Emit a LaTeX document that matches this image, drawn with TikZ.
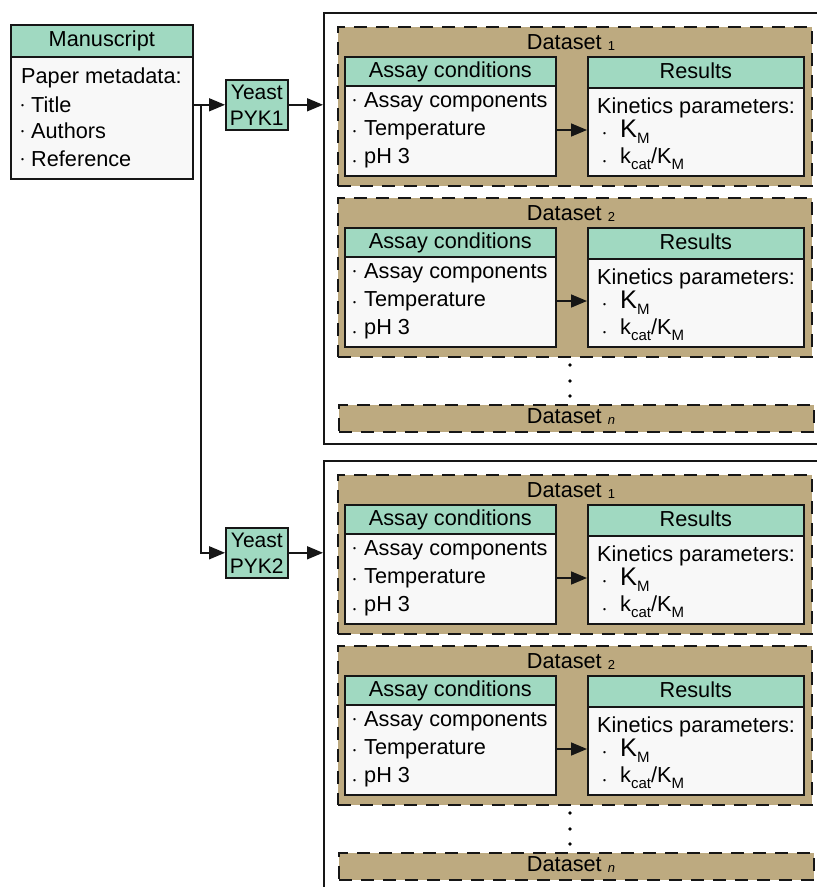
\documentclass[tikz,border=0pt]{standalone}
\usepackage{fontspec}
\setmainfont{Liberation Sans}
\usetikzlibrary{arrows.meta}
\definecolor{hdrgreen}{HTML}{A0D9C1}
\definecolor{tanfill}{HTML}{BDAA80}
\definecolor{bodygray}{HTML}{F8F8F8}
\definecolor{lineblack}{HTML}{161616}
\newcommand\subsc[2][-0.06em]{\raisebox{#1}{\fontsize{13bp}{13bp}\selectfont #2}}
\newcommand\lsub[1]{\raisebox{-0.28em}{\fontsize{15bp}{15bp}\selectfont #1}}
% bullet: optional box width, raise amount
\newcommand\bdot[2][12bp]{\makebox[#1][l]{\raisebox{#2}{\fontsize{8.5bp}{8.5bp}\selectfont\textbullet}}}
\newcommand\DSet[3]{%
  \node[dsetbox, minimum width=474bp, minimum height=159bp] (#1) at (337,{#2}) {};
  \node[lbl, anchor=base] (#1-t) at (571,{#2+23}) {Dataset\ \subsc{#3}};
  \node[hdr, minimum width=211bp, minimum height=29bp] (#1-ah) at (344,{#2+30}) {Assay conditions};
  \node[bodybox, minimum width=211bp, minimum height=90bp] (#1-ab) at (344,{#2+59}) {};
  \node[lbl] (#1-a1) at (353,{#2+81}) {\bdot[11bp]{3.2bp}Assay components};
  \node[lbl] (#1-a2) at (353,{#2+109}) {\bdot[11bp]{0.3bp}Temperature};
  \node[lbl] (#1-a3) at (353,{#2+137}) {\bdot[11bp]{-1.8bp}pH 3};
  \node[hdr, minimum width=216bp, minimum height=31bp] (#1-rh) at (587,{#2+30}) {Results};
  \node[bodybox, minimum width=216bp, minimum height=88bp] (#1-rb) at (587,{#2+61}) {};
  \node[lbl] (#1-r1) at (597,{#2+87}) {Kinetics parameters:};
  \node[lbl] (#1-r2) at (603,{#2+111}) {\bdot[17bp]{0.5bp}{\fontsize{25.5bp}{25bp}\selectfont K}\lsub{M}};
  \node[lbl] (#1-r3) at (603,{#2+137}) {\bdot[17bp]{-1.5bp}k\lsub{cat}/K\lsub{M}};
  \coordinate (#1-ay) at (344,{#2+104});
  \draw[arr] (#1-ay -| #1-ab.east) -- (#1-ay -| #1-rb.west);
}
\newcommand\Container[3]{% #1 prefix, #2 top, #3 height
  \node[contbox, minimum width=507bp, minimum height=#3bp] (#1) at (323,{#2}) {};
  \DSet{#1-d1}{#2+14}{1}
  \DSet{#1-d2}{#2+185}{2}
  \fill (570,{#2+353}) circle (1.9bp);
  \fill (570,{#2+369}) circle (1.9bp);
  \fill (570,{#2+384}) circle (1.9bp);
  \node[dsetbox, minimum width=475bp, minimum height=27bp] (#1-dn) at (338,{#2+392}) {};
  \node[lbl, anchor=base] (#1-dnt) at (571,{#2+411}) {Dataset\ \subsc{\itshape n}};
}
\begin{document}
\begin{tikzpicture}[x=1bp,y=-1bp,
  every node/.style={font=\fontsize{21.7bp}{26bp}\selectfont, text=black},
  hdr/.style={draw=lineblack, line width=1.6bp, fill=hdrgreen, inner sep=0, anchor=north west,
    text height=16bp, text depth=4bp},
  bodybox/.style={draw=lineblack, line width=1.6bp, fill=bodygray, inner sep=0, anchor=north west},
  dsetbox/.style={draw=lineblack, line width=1.8bp, fill=tanfill, inner sep=0, anchor=north west,
    dash pattern=on 13bp off 9bp},
  contbox/.style={draw=lineblack, line width=1.6bp, fill=white, inner sep=0, anchor=north west},
  lbl/.style={inner sep=0, anchor=base west},
  pyk/.style={draw=lineblack, line width=1.6bp, fill=hdrgreen, inner sep=0, anchor=north west,
    minimum width=62bp, minimum height=50bp, align=center, font=\fontsize{21bp}{26bp}\selectfont},
  arr/.style={line width=1.6bp, draw=lineblack, -{Triangle[length=16bp,width=13bp]}}
]
\useasboundingbox (0,0) rectangle (817,887);
\clip (0,0) rectangle (817,887);
\fill[white] (0,0) rectangle (817,887);

% containers
\Container{c1}{12}{431}
\Container{c2}{460}{480}

% manuscript
\node[hdr, minimum width=182bp, minimum height=32bp] (manh) at (10,24) {Manuscript};
\node[bodybox, minimum width=182bp, minimum height=122bp] (man) at (10,56) {};
\node[lbl] (m0) at (21,83) {Paper metadata:};
\node[lbl] (m1) at (21,112) {\bdot[10bp]{3.2bp}Title};
\node[lbl] (m2) at (21,138) {\bdot[10bp]{3.2bp}Authors};
\node[lbl] (m3) at (21,166) {\bdot[10bp]{3.2bp}Reference};

% yeast nodes
\node[pyk] (pyk1) at (225,79) {Yeast\\PYK1};
\node[pyk] (pyk2) at (225,527) {Yeast\\PYK2};

\coordinate (split) at (201,0);
\draw[arr] (man.east |- pyk1.west) -- (pyk1.west);
\draw[arr] (split |- pyk1.west) |- (pyk2.west);
\draw[arr] (pyk1.east) -- (pyk1.east -| c1.west);
\draw[arr] (pyk2.east) -- (pyk2.east -| c2.west);
\end{tikzpicture}
\end{document}
